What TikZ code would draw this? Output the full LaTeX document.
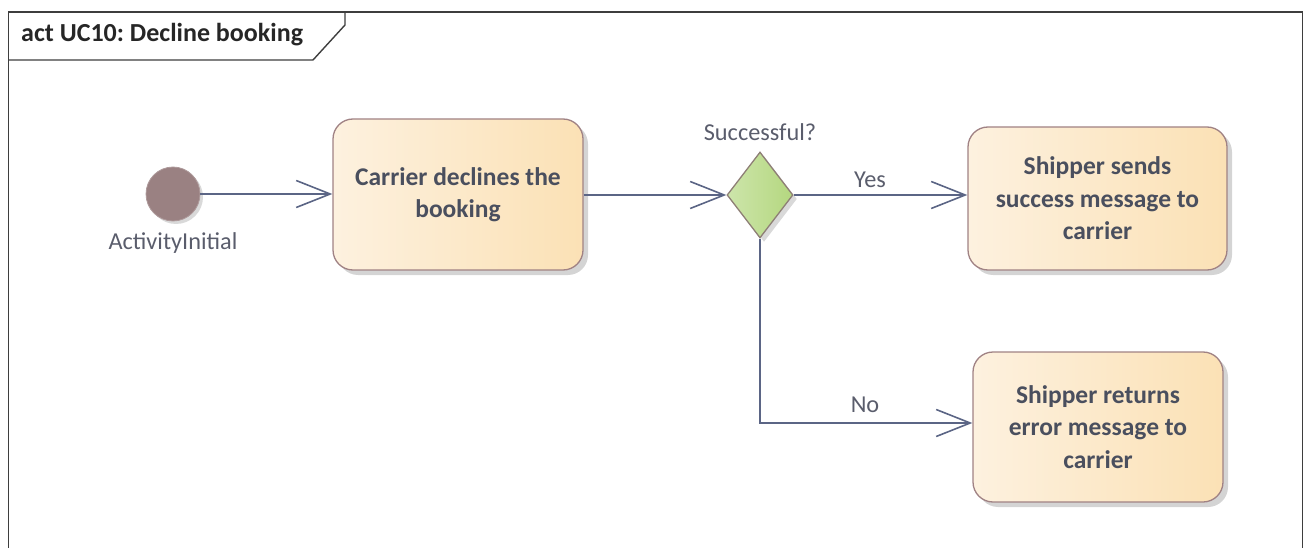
\documentclass[tikz,border=0pt]{standalone}
\usepackage{fontspec}
\setmainfont{Carlito}
\usetikzlibrary{arrows.meta,shapes.geometric,shadows}
\frenchspacing

\definecolor{framec}{HTML}{3E3E3E}
\definecolor{edgec}{HTML}{5B6585}
\definecolor{boxline}{HTML}{A08284}
\definecolor{boxleft}{HTML}{FDF1DF}
\definecolor{boxright}{HTML}{FBE1B5}
\definecolor{decleft}{HTML}{CDE5AB}
\definecolor{decright}{HTML}{B4D77F}
\definecolor{decline}{HTML}{8E7F76}
\definecolor{initfill}{HTML}{9A8182}
\definecolor{txtc}{HTML}{4A4F5E}
\definecolor{lblc}{HTML}{5A5D6C}

\tikzset{
  actbox/.style={rectangle, rounded corners=20pt, draw=boxline, line width=1.3pt,
    left color=boxleft, right color=boxright, align=center, inner sep=4pt,
    font=\fontsize{25.5}{32.5}\selectfont\bfseries, text=txtc,
    drop shadow={shadow xshift=5pt, shadow yshift=-5pt, opacity=0.28, fill=black!60}},
  decision/.style={diamond, draw=decline, line width=1.3pt, inner sep=0pt,
    minimum width=66pt, minimum height=86pt, left color=decleft, right color=decright,
    drop shadow={shadow xshift=4pt, shadow yshift=-4pt, opacity=0.25, fill=black!60}},
  initnode/.style={circle, fill=initfill, draw=initfill!80!white, line width=0.8pt,
    minimum size=54pt, inner sep=0pt,
    drop shadow={shadow xshift=3pt, shadow yshift=-3pt, opacity=0.25, fill=black!60}},
  lbl/.style={font=\fontsize{24.3}{28}\selectfont, text=lblc, inner sep=0pt},
  flow/.style={draw=edgec, line width=1.6pt,
    -{Straight Barb[length=34pt, width=27pt, line width=1.6pt]}},
}

\begin{document}
\begin{tikzpicture}[x=1pt, y=-1pt]
  \useasboundingbox (0,0) rectangle (1304,548);
  \clip (0,0) rectangle (1304,548);

  % diagram frame with its name tab
  \draw[framec, line width=1.6pt] (8.5,620) -- (8.5,12) -- (1302.5,12) -- (1302.5,620);
  \draw[framec, line width=1.4pt] (8.5,60) -- (313,60) -- (345,25) -- (345,12);
  \node[anchor=base west, inner sep=0pt, font=\fontsize{26}{30}\selectfont\bfseries,
    text=black!85] (title) at (21,42) {act UC10: Decline booking};

  % nodes
  \node[initnode] (init) at (173,194) {};
  \node[lbl] (initlbl) at (173,243) {ActivityInitial};
  \node[actbox, minimum width=250pt, minimum height=151pt] (declines) at (458,194.5)
    {Carrier declines the\\booking};
  \node[decision] (dec) at (760,195) {};
  \node[lbl] (question) at (760,132) {Successful?};
  \node[actbox, minimum width=259pt, minimum height=143pt] (success) at (1097.5,198.5)
    {Shipper sends\\success message to\\carrier};
  \node[actbox, minimum width=250pt, minimum height=150pt] (error) at (1098,427)
    {Shipper returns\\error message to\\carrier};

  % control flows
  \draw[flow] (init.east) -- (init.east -| declines.west);
  \draw[flow] (declines.east |- dec.west) -- (dec.west);
  \draw[flow] (dec.east) -- (dec.east -| success.west);
  \node[lbl] (yes) at (870,180) {Yes};
  \coordinate (nobend) at (760,423);
  \draw[flow] (dec.south) -- (nobend) -- (nobend -| error.west);
  \node[lbl] (no) at (865,405) {No};
\end{tikzpicture}
\end{document}
